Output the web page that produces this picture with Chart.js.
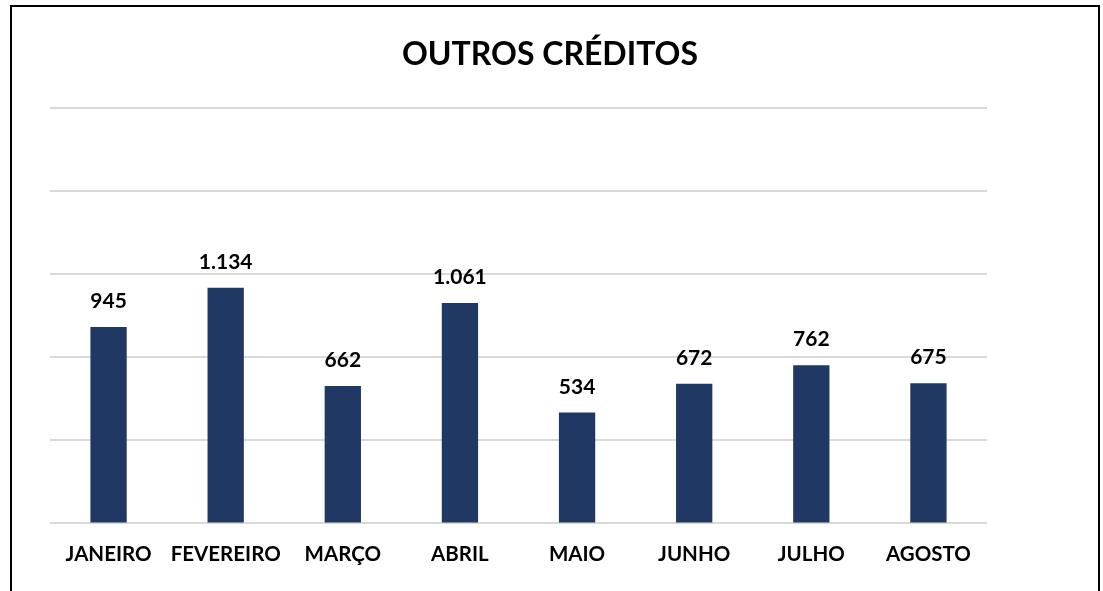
<!DOCTYPE html>
<html>
<head>
<meta charset="utf-8">
<script src="https://cdn.jsdelivr.net/npm/chart.js@4"></script>
<style>
  html, body { margin: 0; padding: 0; background: #fff; }
  #wrap { position: relative; width: 1103px; height: 591px; overflow: hidden; }
  #frame {
    position: absolute; left: 10px; top: 5px; width: 1086px; height: 600px;
    border: 2px solid #000; border-bottom: none;
  }
  canvas { position: absolute; left: 0; top: 0; }
</style>
</head>
<body>
<div id="wrap">
  <div id="frame"></div>
  <canvas id="myChart" width="1103" height="591"></canvas>
</div>
<script>
// chart data
const chartTitle = "OUTROS CRÉDITOS";
const months = ["JANEIRO", "FEVEREIRO", "MARÇO", "ABRIL", "MAIO", "JUNHO", "JULHO", "AGOSTO"];
const credits = [945, 1134, 662, 1061, 534, 672, 762, 675];
const yTicks = [0, 400, 800, 1200, 1600, 2000];

const fontFamily = "Lato, 'Open Sans', sans-serif";

// format numbers the portuguese way (1.134)
function fmt(v) {
  return v.toString().replace(/\B(?=(\d{3})+(?!\d))/g, ".");
}

// title centered on the whole canvas, not the plot area
const titlePlugin = {
  id: "centerTitle",
  afterDraw(chart) {
    const ctx = chart.ctx;
    ctx.save();
    ctx.font = "bold 32px " + fontFamily;
    ctx.fillStyle = "#000";
    ctx.textAlign = "center";
    ctx.textBaseline = "middle";
    ctx.fillText(chartTitle, 550, 55);
    ctx.restore();
  }
};

// value labels above each bar
const valueLabels = {
  id: "valueLabels",
  afterDatasetsDraw(chart) {
    const ctx = chart.ctx;
    const meta = chart.getDatasetMeta(0);
    ctx.save();
    ctx.font = "bold 21px " + fontFamily;
    ctx.fillStyle = "#000";
    ctx.textAlign = "center";
    ctx.textBaseline = "bottom";
    meta.data.forEach((bar, i) => {
      ctx.fillText(fmt(credits[i]), bar.x, bar.y - 15);
    });
    ctx.restore();
  }
};

const ctx = document.getElementById("myChart").getContext("2d");
new Chart(ctx, {
  type: "bar",
  data: {
    labels: months,
    datasets: [{
      data: credits,
      backgroundColor: "#203864",
      categoryPercentage: 1,
      barPercentage: 0.31
    }]
  },
  options: {
    responsive: false,
    animation: false,
    layout: { padding: { left: 50, right: 116, top: 108, bottom: 13 } },
    plugins: {
      legend: { display: false },
      title: { display: false },
      tooltip: { enabled: false }
    },
    scales: {
      x: {
        grid: { display: false },
        border: { display: false },
        ticks: {
          color: "#000",
          font: { family: fontFamily, size: 20.5, weight: "bold" },
          padding: 11,
          maxRotation: 0
        }
      },
      y: {
        min: 0,
        max: 2000,
        afterBuildTicks(axis) {
          axis.ticks = yTicks.map(v => ({ value: v }));
        },
        ticks: { display: false },
        border: { display: false },
        grid: { color: "#d9d9d9", lineWidth: 2, drawTicks: false }
      }
    }
  },
  plugins: [titlePlugin, valueLabels]
});
</script>
</body>
</html>
